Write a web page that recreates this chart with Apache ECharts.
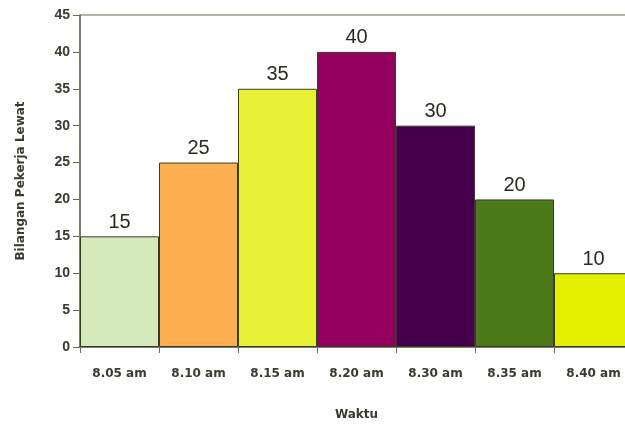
<!DOCTYPE html>
<html>
<head>
<meta charset="utf-8">
<script src="https://cdn.jsdelivr.net/npm/echarts@6/dist/echarts.min.js"></script>
<style>
  html, body { margin: 0; padding: 0; background: #fff; overflow: hidden; }
  #chart { width: 634px; height: 425px; }
</style>
</head>
<body>
<div id="chart"></div>
<script>
const categories = ['8.05 am', '8.10 am', '8.15 am', '8.20 am', '8.30 am', '8.35 am', '8.40 am'];
const counts = [15, 25, 35, 40, 30, 20, 10];
const barColors = ['#d4eabb', '#fdae4e', '#e7f236', '#930060', '#46004b', '#4d7a18', '#e5ef00'];
const yTicks = [0, 5, 10, 15, 20, 25, 30, 35, 40, 45];

const axisColor = '#6e6a55';
const textColor = '#3a3a30';
const wideBold = 'DejaVu Sans';
const narrowBold = '"Liberation Sans Narrow", "Liberation Sans", sans-serif';

const chart = echarts.init(document.getElementById('chart'));
chart.setOption({
  animation: false,
  grid: {
    left: 80, right: 1, top: 15, bottom: 78,
    outerBoundsMode: 'none',
    containLabel: false,
    show: true, borderColor: axisColor, borderWidth: 1, backgroundColor: 'transparent'
  },
  xAxis: {
    type: 'category',
    data: categories,
    name: 'Waktu',
    nameLocation: 'middle',
    nameGap: 62,
    nameTextStyle: { fontFamily: wideBold, fontWeight: 'bold', fontSize: 12, color: textColor },
    axisLine: { lineStyle: { color: axisColor, width: 1.5 } },
    axisTick: { show: true, alignWithLabel: false, length: 6, lineStyle: { color: axisColor } },
    axisLabel: { margin: 21, fontFamily: wideBold, fontWeight: 'bold', fontSize: 12, color: textColor }
  },
  yAxis: {
    type: 'value',
    min: yTicks[0],
    max: yTicks[yTicks.length - 1],
    interval: yTicks[1] - yTicks[0],
    name: 'Bilangan Pekerja Lewat',
    nameLocation: 'middle',
    nameGap: 53,
    nameRotate: 90,
    nameTextStyle: { fontFamily: wideBold, fontWeight: 'bold', fontSize: 12, color: textColor },
    axisLine: { show: true, lineStyle: { color: axisColor, width: 1.5 } },
    axisTick: { show: true, length: 7, lineStyle: { color: axisColor } },
    axisLabel: { margin: 10, fontFamily: narrowBold, fontWeight: 'bold', fontSize: 14, color: textColor },
    splitLine: { show: false }
  },
  series: [{
    type: 'bar',
    barCategoryGap: '0%',
    data: counts.map((v, i) => ({
      value: v,
      itemStyle: { color: barColors[i], borderColor: '#3a3a2c', borderWidth: 1 }
    })),
    label: {
      show: true,
      position: 'top',
      distance: 4,
      fontFamily: 'Liberation Sans',
      fontSize: 20,
      color: '#2a2a22'
    }
  }]
});
</script>
</body>
</html>
